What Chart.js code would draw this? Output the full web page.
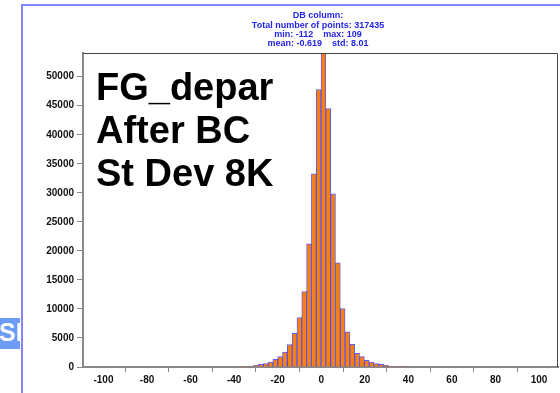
<!DOCTYPE html>
<html>
<head>
<meta charset="utf-8">
<script src="https://cdn.jsdelivr.net/npm/chart.js@4"></script>
<style>
  html, body { margin: 0; padding: 0; background: #fff; }
  canvas { display: block; }
</style>
</head>
<body>
<canvas id="graph" width="560" height="393"></canvas>
<script>
// bin centers (bin width ~2.21)
const binCenters = [-36.57, -34.36, -32.15, -29.94, -27.73, -25.52, -23.31, -21.10, -18.89, -16.68,
  -14.47, -12.26, -10.05, -7.84, -5.63, -3.42, -1.21, 1.00, 3.21, 5.42,
  7.63, 9.84, 12.05, 14.26, 16.47, 18.68, 20.89, 23.10, 25.31, 27.52,
  29.73, 31.94, 34.15, 36.36, 38.57];

// counts per bin
const counts = [20, 60, 150, 290, 460, 580, 860, 1330, 1790, 2590,
  3860, 5820, 8520, 13010, 21200, 33290, 47800, 55700, 44520, 29840,
  17920, 10070, 6050, 3920, 2360, 1790, 1150, 860, 580, 460,
  290, 170, 80, 40, 20];

// tick labels
const xTicks = [-100, -80, -60, -40, -20, 0, 20, 40, 60, 80, 100];
const yTicks = [0, 5000, 10000, 15000, 20000, 25000, 30000, 35000, 40000, 45000, 50000];

// title lines
const titleLines = ['DB column:', 'Total number of points: 317435', 'min: -112    max: 109', 'mean: -0.619    std: 8.01'];

// annotation text
const noteLines = ['FG_depar', 'After BC', 'St Dev 8K'];

const FONT = '"Liberation Sans", Arial, sans-serif';

// 装飾描画
const decoPlugin = {
  id: 'deco',
  beforeDraw(chart) {
    const ctx = chart.ctx;
    ctx.save();
    ctx.fillStyle = '#fff';
    ctx.fillRect(0, 0, chart.width, chart.height);
    // 外枠の青線
    ctx.strokeStyle = '#8585ff';
    ctx.lineWidth = 2;
    ctx.beginPath();
    ctx.moveTo(560, 5);
    ctx.lineTo(22, 5);
    ctx.lineTo(22, 393);
    ctx.stroke();
    // 左の青い箱
    ctx.fillStyle = '#6c9cf6';
    ctx.fillRect(0, 318, 20, 31);
    ctx.beginPath();
    ctx.rect(0, 318, 20, 31);
    ctx.clip();
    ctx.fillStyle = '#fff';
    ctx.font = 'bold 25px ' + FONT;
    ctx.textBaseline = 'middle';
    ctx.fillText('SI', -1, 334);
    ctx.restore();
  },
  afterDraw(chart) {
    const ctx = chart.ctx;
    const a = chart.chartArea;
    ctx.save();
    // 上と右の枠
    ctx.strokeStyle = '#444';
    ctx.lineWidth = 1;
    ctx.beginPath();
    ctx.moveTo(a.left, a.top + 0.5);
    ctx.lineTo(a.right - 0.5, a.top + 0.5);
    ctx.lineTo(a.right - 0.5, a.bottom);
    ctx.stroke();
    // タイトル
    ctx.fillStyle = '#2424e8';
    ctx.font = 'bold 9px ' + FONT;
    ctx.textAlign = 'center';
    ctx.textBaseline = 'middle';
    titleLines.forEach((t, i) => ctx.fillText(t, 318, 16 + i * 9.3));
    // 注記
    ctx.fillStyle = '#000';
    ctx.font = 'bold 38px ' + FONT;
    ctx.textAlign = 'left';
    ctx.textBaseline = 'alphabetic';
    noteLines.forEach((t, i) => ctx.fillText(t, 96, 100 + i * 43));
    ctx.restore();
  }
};

new Chart(document.getElementById('graph'), {
  type: 'bar',
  data: {
    datasets: [{
      data: binCenters.map((x, i) => ({ x: x, y: counts[i] })),
      backgroundColor: '#ff8000',
      borderColor: 'rgba(50,50,255,0.8)',
      borderWidth: 1,
      barPercentage: 1,
      categoryPercentage: 1
    }]
  },
  options: {
    responsive: false,
    animation: false,
    layout: { padding: { top: 53, right: 2, left: 0, bottom: 0 } },
    plugins: { legend: { display: false }, tooltip: { enabled: false } },
    scales: {
      x: {
        type: 'linear',
        offset: false,
        min: -109.4,
        max: 108.7,
        afterFit(scale) { scale.height = 26; },
        afterBuildTicks(scale) { scale.ticks = xTicks.map(v => ({ value: v })); },
        border: { color: '#888', width: 2 },
        grid: { drawOnChartArea: false, drawTicks: true, tickLength: 5, color: '#888' },
        ticks: {
          maxRotation: 0,
          autoSkip: false,
          padding: 2,
          color: '#111',
          font: { family: FONT, size: 10, weight: 'bold' }
        }
      },
      y: {
        min: 0,
        max: 54080,
        afterFit(scale) { scale.width = 83; },
        afterBuildTicks(scale) { scale.ticks = yTicks.map(v => ({ value: v })); },
        border: { color: '#888', width: 2 },
        grid: { drawOnChartArea: false, drawTicks: true, tickLength: 6, color: '#888' },
        ticks: {
          autoSkip: false,
          padding: 3,
          color: '#111',
          font: { family: FONT, size: 10, weight: 'bold' },
          callback: v => String(v)
        }
      }
    }
  },
  plugins: [decoPlugin]
});
</script>
</body>
</html>
